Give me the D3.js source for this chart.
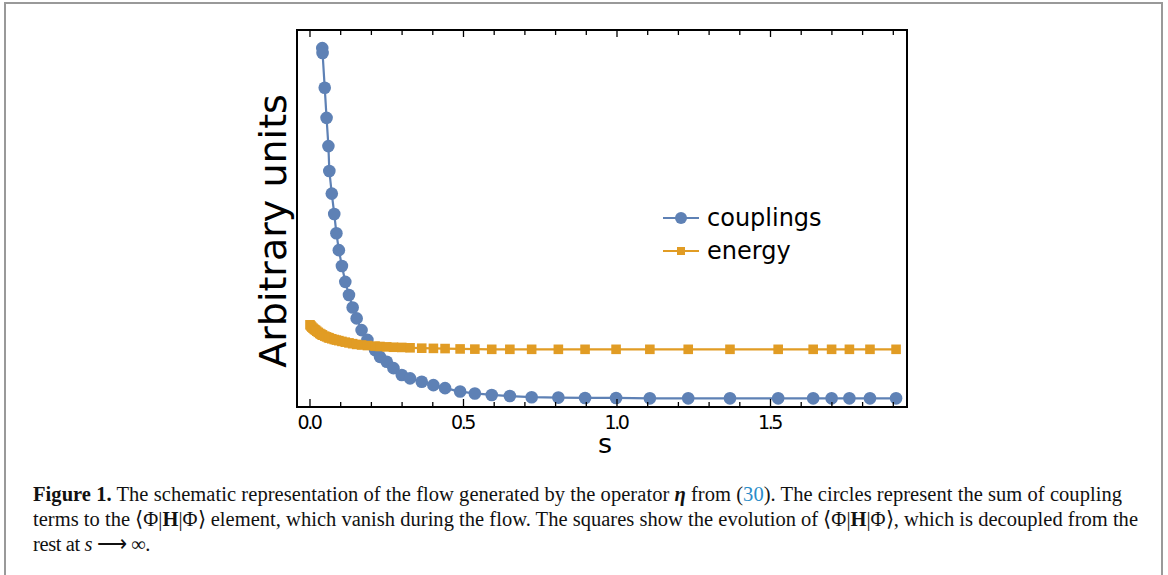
<!DOCTYPE html>
<html>
<head>
<meta charset="utf-8">
<script src="https://cdn.jsdelivr.net/npm/d3@7"></script>
<style>
  html, body { margin: 0; padding: 0; background: #fff; }
  svg { display: block; }
</style>
</head>
<body>
<div id="chart"></div>
<script>
// flow parameter s and the two curves (arbitrary units)
var sCouplings = [0.040, 0.041, 0.048, 0.054, 0.060, 0.063, 0.071, 0.079, 0.086, 0.094,
	0.104, 0.115, 0.127, 0.139, 0.152, 0.168, 0.187, 0.212, 0.228, 0.250,
	0.272, 0.299, 0.326, 0.364, 0.402, 0.440, 0.489, 0.537, 0.592, 0.651,
	0.722, 0.809, 0.896, 0.997, 1.107, 1.232, 1.368, 1.525, 1.639, 1.699,
	1.757, 1.824, 1.909];
var couplings = [95.2, 93.9, 84.7, 76.7, 69.2, 62.6, 56.6, 51.2, 46.1, 41.6,
	37.4, 33.2, 29.7, 26.4, 23.5, 20.4, 17.8, 15.1, 13.3, 12.0,
	10.3, 8.5, 7.6, 6.7, 5.8, 5.0, 4.1, 3.6, 3.2, 2.9,
	2.6, 2.5, 2.4, 2.4, 2.3, 2.3, 2.3, 2.3, 2.3, 2.3,
	2.3, 2.3, 2.3];

// energy has extra early steps where the couplings run off the top
var sEnergy = [0, 0.003, 0.006, 0.010, 0.014, 0.018, 0.022, 0.027, 0.032, 0.036].concat(sCouplings);
var energy = [21.8, 21.5, 21.2, 20.9, 20.6, 20.4, 20.1, 19.8, 19.5, 19.3,
	19.1, 19.05, 18.8, 18.6, 18.4, 18.3, 18.1, 17.9, 17.75, 17.6,
	17.4, 17.2, 17.0, 16.8, 16.6, 16.45, 16.3, 16.15, 16.05, 15.95,
	15.85, 15.8, 15.7, 15.6, 15.55, 15.5, 15.4, 15.35, 15.3, 15.3,
	15.3, 15.3, 15.3, 15.3, 15.3, 15.3, 15.3, 15.3, 15.3, 15.3,
	15.3, 15.3, 15.3];

var xTickLabels = ['0.0', '0.5', '1.0', '1.5'];
var seriesNames = ['couplings', 'energy'];

var blue = '#5e81b5', orange = '#e19c24';
var width = 1168, height = 575;
var plotLeft = 297, plotRight = 907, plotTop = 30, plotBottom = 407;

var svg = d3.select('#chart').append('svg')
	.attr('width', width)
	.attr('height', height);

// grey frame around the whole figure
svg.append('rect')
	.attr('x', 5).attr('y', 3)
	.attr('width', 1157).attr('height', 600)
	.attr('fill', '#fff')
	.attr('stroke', '#999')
	.attr('stroke-width', 2);

var x = d3.scaleLinear().domain([-0.0423, 1.9446]).range([plotLeft, plotRight]);
var y = d3.scaleLinear().domain([0, 100]).range([plotBottom, plotTop]);

svg.append('clipPath').attr('id', 'plot-clip')
	.append('rect')
	.attr('x', plotLeft).attr('y', plotTop)
	.attr('width', plotRight - plotLeft).attr('height', plotBottom - plotTop);

var plot = svg.append('g').attr('clip-path', 'url(#plot-clip)');

var line = d3.line()
	.x(function (d) { return x(d[0]); })
	.y(function (d) { return y(d[1]); });

var cData = d3.zip(sCouplings, couplings);
var eData = d3.zip(sEnergy, energy);

//couplings: line + circles
plot.append('path')
	.datum(cData)
	.attr('d', line)
	.attr('fill', 'none')
	.attr('stroke', blue)
	.attr('stroke-width', 2.2);

plot.selectAll('circle.c')
	.data(cData)
	.enter().append('circle')
	.attr('class', 'c')
	.attr('cx', function (d) { return x(d[0]); })
	.attr('cy', function (d) { return y(d[1]); })
	.attr('r', 6.3)
	.attr('fill', blue);

//energy: line + squares
var sq = 9.6;
plot.append('path')
	.datum(eData)
	.attr('d', line)
	.attr('fill', 'none')
	.attr('stroke', orange)
	.attr('stroke-width', 2.2);

plot.selectAll('rect.e')
	.data(eData)
	.enter().append('rect')
	.attr('class', 'e')
	.attr('x', function (d) { return x(d[0]) - sq / 2; })
	.attr('y', function (d) { return y(d[1]) - sq / 2; })
	.attr('width', sq).attr('height', sq)
	.attr('fill', orange);

// frame with inward ticks
var minorTicks = d3.range(0, 20).map(function (i) { return i / 10; });
var ticks = svg.append('g');
ticks.selectAll('line.b')
	.data(minorTicks)
	.enter().append('line')
	.attr('x1', function (d) { return x(d); })
	.attr('x2', function (d) { return x(d); })
	.attr('y1', plotBottom)
	.attr('y2', function (d, i) { return plotBottom - (i % 5 === 0 ? 8 : 5); })
	.attr('stroke', '#000').attr('stroke-width', 1.3);
ticks.selectAll('line.t')
	.data(minorTicks)
	.enter().append('line')
	.attr('x1', function (d) { return x(d); })
	.attr('x2', function (d) { return x(d); })
	.attr('y1', plotTop)
	.attr('y2', function (d, i) { return plotTop + (i % 5 === 0 ? 7 : 5); })
	.attr('stroke', '#000').attr('stroke-width', 1.3);

svg.append('rect')
	.attr('x', plotLeft).attr('y', plotTop)
	.attr('width', plotRight - plotLeft).attr('height', plotBottom - plotTop)
	.attr('fill', 'none')
	.attr('stroke', '#000')
	.attr('stroke-width', 2);

svg.append('g').selectAll('text')
	.data(xTickLabels)
	.enter().append('text')
	.attr('x', function (d) { return x(+d) - 1; })
	.attr('y', 429)
	.attr('text-anchor', 'middle')
	.attr('font-family', 'DejaVu Sans')
	.attr('font-size', 19)
	.attr('letter-spacing', -2.4)
	.attr('fill', '#000')
	.text(function (d) { return d; });

svg.append('text')
	.attr('x', 605).attr('y', 453)
	.attr('text-anchor', 'middle')
	.attr('font-family', 'DejaVu Sans')
	.attr('font-size', 27)
	.text('s');

svg.append('text')
	.attr('transform', 'translate(286,231) rotate(-90)')
	.attr('text-anchor', 'middle')
	.attr('font-family', 'DejaVu Sans')
	.attr('font-size', 38)
	.text('Arbitrary units');

// legend
var legend = svg.append('g').attr('font-family', 'DejaVu Sans').attr('font-size', 24);
var legendY = [218, 251];
seriesNames.forEach(function (name, i) {
	var col = i === 0 ? blue : orange;
	legend.append('line')
		.attr('x1', 663).attr('x2', 699)
		.attr('y1', legendY[i]).attr('y2', legendY[i])
		.attr('stroke', col).attr('stroke-width', 2.2);
	if (i === 0) {
		legend.append('circle').attr('cx', 681).attr('cy', legendY[i]).attr('r', 6).attr('fill', col);
	} else {
		legend.append('rect').attr('x', 677).attr('y', legendY[i] - 4).attr('width', 8).attr('height', 8).attr('fill', col);
	}
	legend.append('text')
		.attr('x', 707).attr('y', legendY[i] + 8)
		.text(name);
});

// caption
var cap = svg.append('g')
	.attr('font-family', 'Liberation Serif')
	.attr('font-size', 20.5)
	.attr('fill', '#111');

var l1 = cap.append('text').attr('x', 33).attr('y', 501).attr('textLength', 1089).attr('lengthAdjust', 'spacing');
l1.append('tspan').attr('font-weight', 'bold').text('Figure 1.');
l1.append('tspan').text(' The schematic representation of the flow generated by the operator ');
l1.append('tspan').attr('font-weight', 'bold').attr('font-style', 'italic').text('η');
l1.append('tspan').text(' from  (');
l1.append('tspan').attr('fill', '#2a8cc8').text('30');
l1.append('tspan').text('). The circles represent the sum of coupling');

var l2 = cap.append('text').attr('x', 33).attr('y', 526).attr('textLength', 1105).attr('lengthAdjust', 'spacing');
l2.append('tspan').text('terms to the ⟨Φ|');
l2.append('tspan').attr('font-weight', 'bold').text('H');
l2.append('tspan').text('|Φ⟩ element, which vanish during the flow. The squares show the evolution of ⟨Φ|');
l2.append('tspan').attr('font-weight', 'bold').text('H');
l2.append('tspan').text('|Φ⟩, which is decoupled from the');

var l3 = cap.append('text').attr('x', 33).attr('y', 551).attr('letter-spacing', -0.4).attr('xml:space', 'preserve');
l3.append('tspan').text('rest at ');
l3.append('tspan').attr('font-style', 'italic').text('s');
l3.append('tspan').text(' ⟶ ');
l3.append('tspan').text('∞.');
</script>
</body>
</html>
